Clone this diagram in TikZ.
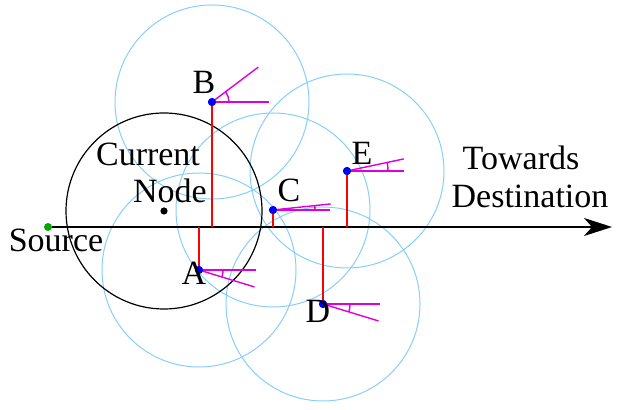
\documentclass[tikz,border=0pt]{standalone}
\usepackage{fontspec}
\setmainfont{Liberation Serif}
\usepackage{tikz}
\usetikzlibrary{arrows.meta,calc}
\definecolor{rangeBl}{RGB}{135,206,250}
\definecolor{headMg}{RGB}{220,0,220}
\definecolor{srcGr}{RGB}{0,170,0}

\begin{document}
\begin{tikzpicture}[x=0.5pt,y=0.5pt,
    every node/.style={font=\fontsize{17}{20}\selectfont},
    pt/.style={circle,fill=blue,inner sep=0pt,minimum size=4pt},
    radiorange/.style={rangeBl,line width=0.5pt},
    proj/.style={red,line width=0.7pt},
    heading/.style={headMg,line width=0.7pt}]

    \useasboundingbox (0,0) rectangle (624,410);

    % Neighbour positions
    \node[pt] (B) at (212,308) {};
    \node[pt] (A) at (199,140) {};
    \node[pt] (C) at (273,200) {};
    \node[pt] (D) at (323,106) {};
    \node[pt] (E) at (347,239) {};

    % Radio ranges of the neighbours
    \draw[radiorange] (B.center) circle[radius=97];
    \draw[radiorange] (A.center) circle[radius=97];
    \draw[radiorange] (C.center) circle[radius=97];
    \draw[radiorange] (D.center) circle[radius=97];
    \draw[radiorange] (E.center) circle[radius=97];

    % Current node and its range
    \node[circle,fill=black,inner sep=0pt,minimum size=3.6pt] (cur) at (164,199) {};
    \draw[black,line width=0.6pt] (cur.center) circle[radius=98];

    % Source and line towards destination
    \node[circle,fill=srcGr,inner sep=0pt,minimum size=4pt] (src) at (48,183) {};
    \coordinate (dest) at (612,183);
    \draw[line width=0.8pt,-{Stealth[length=14pt,width=9pt,inset=4pt]}] (src) -- (dest);

    % Projections on the line
    \draw[proj] (B) -- (B |- src);
    \draw[proj] (A) -- (A |- src);
    \draw[proj] (C) -- (C |- src);
    \draw[proj] (D) -- (D |- src);
    \draw[proj] (E) -- (E |- src);

    % Heading angles
    \foreach \p/\ang/\r in {B/37/17, A/-17/24, C/6/42, D/-17/27, E/12/41} {
      \draw[heading] (\p.center) -- ++(0:57);
      \draw[heading] (\p.center) -- ++(\ang:58);
      \draw[heading] ($(\p.center)+(\r,0)$) arc[start angle=0,end angle=\ang,radius=\r];
    }

    % Redraw dots on top
    \foreach \p in {A,B,C,D,E} \fill[blue] (\p.center) circle[radius=4];

    % Labels
    \node (lB) at (204,328) {B};
    \node (lA) at (194,137) {A};
    \node (lC) at (289,220) {C};
    \node (lD) at (318,99) {D};
    \node (lE) at (362,257) {E};
    \node (lCur) at (148,256) {Current};
    \node (lNode) at (170,219) {Node};
    \node (lTow) at (521,252) {Towards};
    \node (lDest) at (530,214) {Destination};
    \node (lSrc) at (56,170) {Source};

  \end{tikzpicture}
\end{document}
